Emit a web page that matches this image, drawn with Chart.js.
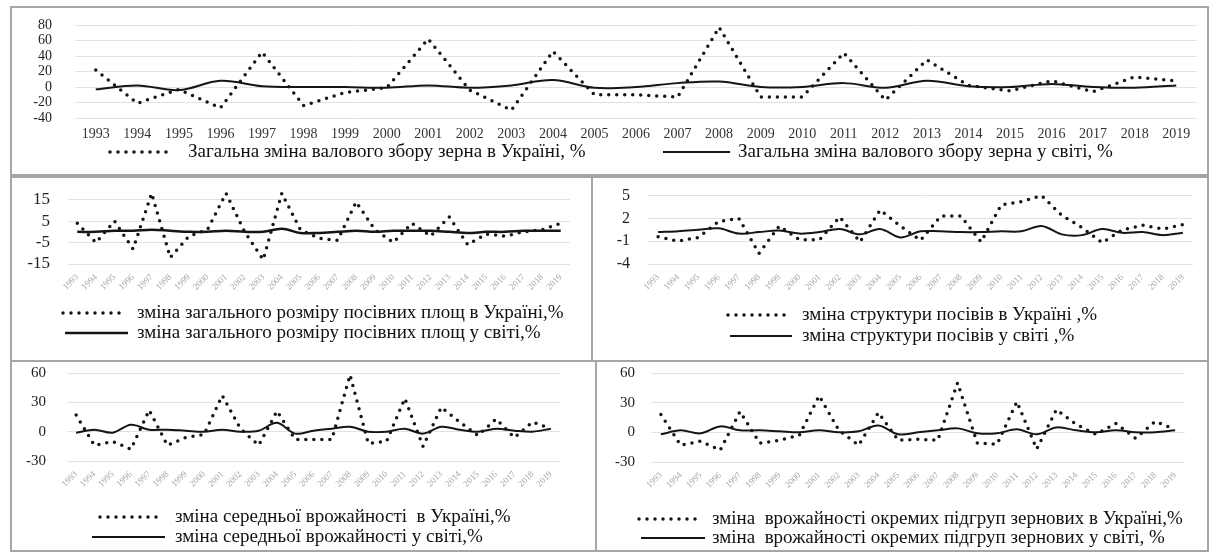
<!DOCTYPE html>
<html>
<head>
<meta charset="utf-8">
<script src="https://cdn.jsdelivr.net/npm/chart.js@4.4.1/dist/chart.umd.min.js"></script>
<style>
  body { margin: 0; background: #fff; }
  .panel { position: absolute; border: 2px solid #a6a6a6; background: #fff; }
  canvas { display: block; }
</style>
</head>
<body>
<div class="panel" style="left:10px;top:6px;width:1195px;height:166px"><canvas id="cTop" width="1195" height="166"></canvas></div>
<div class="panel" style="left:10px;top:176px;width:579px;height:182px"><canvas id="cArea" width="579" height="182"></canvas></div>
<div class="panel" style="left:591px;top:176px;width:614px;height:182px"><canvas id="cStruct" width="614" height="182"></canvas></div>
<div class="panel" style="left:10px;top:360px;width:583px;height:188px"><canvas id="cYield" width="583" height="188"></canvas></div>
<div class="panel" style="left:595px;top:360px;width:610px;height:188px"><canvas id="cSub" width="610" height="188"></canvas></div>
<script>
// Years on the x axis
const years = ['1993', '1994', '1995', '1996', '1997', '1998', '1999', '2000', '2001', '2002',
  '2003', '2004', '2005', '2006', '2007', '2008', '2009', '2010', '2011', '2012',
  '2013', '2014', '2015', '2016', '2017', '2018', '2019'];

// Gross grain harvest change, %
const ukrHarvest = [22, -21, -3, -27, 45, -24, -7, -1, 62, -4, -30, 46, -10, -10, -13, 77, -13, -13, 44, -17, 35, 2, -5, 8, -6, 13, 8];
const worldHarvest = [-3, 2, -4, 8, 1, 0, 0, -1, 2, -1, 2, 9, -1, 0, 5, 7, 0, 0, 5, -1, 8, 1, 0, 4, 0, -1, 2];

// Sown area change, %
const ukrArea = [4, -5, 5, -8, 18, -12, -2, 1, 18, 0, -13, 18, 1, -3, -4, 14, 1, -5, 4, -2, 7, -6, -1, -2, 0, 1, 4];
const worldArea = [0, 0, 0.5, 0.5, 1, 0.5, 0, 0, 0.5, 0, 0, 1.5, -0.5, -0.5, 0, 0.5, 0, 0.5, 0.5, 0.5, 0, -0.5, 0, 0, 0.5, 0.5, 0.5];

// Crop structure change, %
const ukrStruct = [-0.4, -1.0, -0.5, 1.6, 2.0, -2.6, 1.0, -0.8, -0.8, 2.2, -1.1, 3.1, 1.0, -0.9, 2.3, 2.3, -1.1, 3.8, 4.2, 5.0, 2.4, 0.8, -1.2, 0.5, 1.1, 0.6, 1.2];
const worldStruct = [0.2, 0.3, 0.5, 0.7, 0.0, 0.2, 0.4, 0.0, 0.2, 0.6, -0.1, 0.6, -0.5, 0.3, 0.3, 0.2, 0.2, 0.3, 0.3, 1.0, -0.1, -0.2, 0.6, 0.1, 0.2, -0.2, 0.1];

// Average yield change, %
const ukrYield = [17, -14, -10, -18, 22, -14, -6, -3, 37, 3, -14, 21, -8, -8, -8, 58, -12, -10, 34, -15, 25, 10, -4, 13, -6, 10, 3];
const worldYield = [-1, 2, -1, 7, 2, 2, 1, 0, 2, 0, 1, 9, -2, 1, 3, 5, 0, 0, 3, -2, 5, 2, 0, 3, 1, 0, 3];

// Yield change of grain subgroups, %
const ukrSub = [18, -13, -9, -18, 21, -11, -8, -3, 37, 2, -13, 20, -8, -7, -8, 50, -11, -12, 31, -17, 23, 8, -2, 9, -6, 11, 3];
const worldSub = [-2, 2, -1, 6, 2, 2, 1, 0, 2, 0, 1, 7, -2, 0, 2, 4, -1, -1, 3, -2, 5, 2, 0, 2, 0, 0, 2];

// Y tick values
const harvestTicks = [-40, -20, 0, 20, 40, 60, 80];
const areaTicks = [-15, -5, 5, 15];
const structTicks = [-4, -1, 2, 5];
const yieldTicks = [-30, 0, 30, 60];

const serif = '"Liberation Serif", "Times New Roman", serif';
const ink = '#151515';

// Legend with line samples (dotted / solid) like the original
const lineLegend = {
  id: 'lineLegend',
  afterDraw(chart, args, opts) {
    const ctx = chart.ctx;
    ctx.save();
    ctx.font = opts.font;
    ctx.fillStyle = opts.color;
    ctx.textBaseline = 'middle';
    chart.data.datasets.forEach((ds, i) => {
      const it = opts.items[i];
      ctx.beginPath();
      ctx.strokeStyle = ds.borderColor;
      ctx.lineWidth = ds.borderWidth;
      ctx.lineCap = ds.borderCapStyle || 'butt';
      ctx.setLineDash(ds.borderDash || []);
      ctx.moveTo(it.x, it.y);
      ctx.lineTo(it.x + it.w, it.y);
      ctx.stroke();
      ctx.setLineDash([]);
      ctx.fillText(ds.label, it.tx, it.y);
    });
    ctx.restore();
  }
};

function makePanel(id, cfg) {
  const ctx = document.getElementById(id).getContext('2d');
  return new Chart(ctx, {
    type: 'line',
    data: {
      labels: years,
      datasets: [
        {
          label: cfg.ukrLabel,
          data: cfg.ukr,
          borderColor: ink,
          borderWidth: 3.5,
          borderDash: [0, 8],
          borderCapStyle: 'round',
          pointRadius: 0,
          tension: 0,
          fill: false,
        },
        {
          label: cfg.worldLabel,
          data: cfg.world,
          borderColor: ink,
          borderWidth: cfg.worldWidth || 2,
          pointRadius: 0,
          tension: 0.35,
          fill: false,
        },
      ],
    },
    options: {
      responsive: false,
      animation: false,
      events: [],
      layout: { padding: cfg.pad },
      plugins: {
        legend: { display: false },
        tooltip: { enabled: false },
        lineLegend: {
          font: '19px ' + serif,
          color: '#111',
          items: cfg.legendItems,
        },
      },
      scales: {
        x: {
          offset: true,
          grid: { display: false },
          border: { display: false },
          ticks: cfg.xTicks,
          afterFit: (s) => { s.height = cfg.xH; },
        },
        y: {
          min: cfg.min,
          max: cfg.max,
          grid: {
            color: '#e2e2e2',
            lineWidth: 1,
            drawTicks: true,
            tickLength: cfg.yPad,
            tickColor: 'rgba(0,0,0,0)',
          },
          border: { display: false },
          ticks: {
            font: { family: serif, size: cfg.yFont },
            color: '#222',
            padding: 0,
            autoSkip: false,
          },
          afterBuildTicks: (s) => { s.ticks = cfg.ticks.map((v) => ({ value: v })); },
          afterFit: (s) => { s.width = cfg.yW; },
        },
      },
    },
    plugins: [lineLegend],
  });
}

const flatTicks = {
  font: { family: serif, size: 14 },
  color: '#333',
  maxRotation: 0,
  minRotation: 0,
  autoSkip: false,
  padding: 0,
};
const slantTicks = {
  font: { family: serif, size: 9 },
  color: '#a8a8a8',
  maxRotation: 45,
  minRotation: 45,
  autoSkip: false,
  padding: 0,
};

makePanel('cTop', {
  ukr: ukrHarvest, world: worldHarvest,
  ukrLabel: 'Загальна зміна валового збору зерна в Україні, %',
  worldLabel: 'Загальна зміна валового збору зерна у світі, %',
  min: -40, max: 80, ticks: harvestTicks,
  pad: { top: 17, right: 10, bottom: 26, left: 0 },
  yW: 63, yPad: 23, yFont: 14, xH: 30, xTicks: flatTicks,
  legendItems: [
    { x: 98, w: 63, tx: 176, y: 144 },
    { x: 651, w: 67, tx: 726, y: 144 },
  ],
});

makePanel('cArea', {
  ukr: ukrArea, world: worldArea, worldWidth: 2.5,
  ukrLabel: 'зміна загального розміру посівних площ в Україні,%',
  worldLabel: 'зміна загального розміру посівних площ у світі,%',
  min: -15, max: 20, ticks: areaTicks,
  pad: { top: 11, right: 21, bottom: 66, left: 0 },
  yW: 56, yPad: 18, yFont: 17, xH: 30, xTicks: slantTicks,
  legendItems: [
    { x: 51, w: 64, tx: 125, y: 135 },
    { x: 53, w: 63, tx: 125, y: 155 },
  ],
});

makePanel('cStruct', {
  ukr: ukrStruct, world: worldStruct,
  ukrLabel: 'зміна структури посівів в Україні ,%',
  worldLabel: 'зміна структури посівів у світі ,%',
  min: -4, max: 6, ticks: structTicks,
  pad: { top: 10, right: 14, bottom: 66, left: 0 },
  yW: 55, yPad: 18, yFont: 16, xH: 30, xTicks: slantTicks,
  legendItems: [
    { x: 135, w: 62, tx: 209, y: 137 },
    { x: 137, w: 62, tx: 209, y: 158 },
  ],
});

makePanel('cYield', {
  ukr: ukrYield, world: worldYield,
  ukrLabel: 'зміна середньої врожайності  в Україні,%',
  worldLabel: 'зміна середньої врожайності у світі,%',
  min: -30, max: 60, ticks: yieldTicks,
  pad: { top: 11, right: 35, bottom: 59, left: 0 },
  yW: 55, yPad: 21, yFont: 15, xH: 30, xTicks: slantTicks,
  legendItems: [
    { x: 88, w: 64, tx: 163, y: 155 },
    { x: 80, w: 73, tx: 163, y: 175 },
  ],
});

makePanel('cSub', {
  ukr: ukrSub, world: worldSub,
  ukrLabel: 'зміна  врожайності окремих підгруп зернових в Україні,%',
  worldLabel: 'зміна  врожайності окремих підгруп зернових у світі, %',
  min: -30, max: 60, ticks: yieldTicks,
  pad: { top: 11, right: 22, bottom: 58, left: 0 },
  yW: 54, yPad: 16, yFont: 15, xH: 30, xTicks: slantTicks,
  legendItems: [
    { x: 42, w: 64, tx: 115, y: 157 },
    { x: 44, w: 64, tx: 115, y: 176 },
  ],
});
</script>
</body>
</html>
